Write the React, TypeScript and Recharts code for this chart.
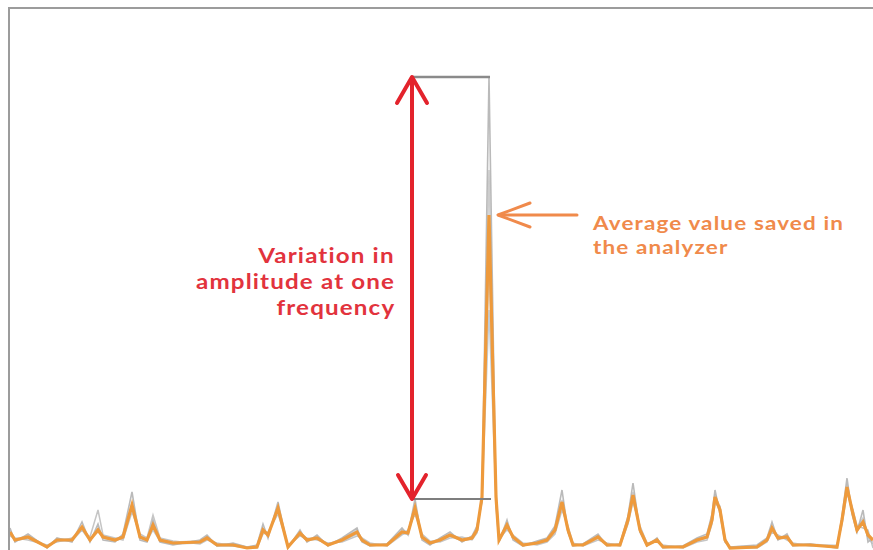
import { Line, LineChart, ReferenceLine, XAxis, YAxis } from "recharts";

// Frequency bins (x) and trace levels (y), one entry per bin.
const freqBins = [
  10, 15, 28, 47, 57, 72, 82, 90, 98, 103,
  115, 123, 132, 140, 147, 153, 160, 173, 200, 207,
  217, 233, 247, 257, 263, 268, 278, 288, 300, 307,
  317, 328, 342, 357, 362, 370, 387, 402, 408, 415,
  422, 430, 440, 450, 462, 472, 477, 482, 489, 496,
  499, 507, 513, 523, 537, 547, 555, 562, 568, 573,
  583, 598, 607, 620, 628, 633, 640, 647, 657, 663,
  683, 697, 707, 712, 715, 720, 725, 730, 757, 767,
  772, 778, 787, 793, 810, 837, 842, 847, 852, 857,
  863, 868, 873,
];

// Averaged trace kept by the analyzer.
const averageTrace = [
  18, 10, 13, 3, 10, 10, 23, 10, 20, 13,
  10, 13, 45, 13, 10, 25, 10, 7, 8, 12,
  5, 5, 2, 3, 20, 15, 42, 3, 17, 10,
  12, 5, 10, 18, 10, 5, 5, 18, 17, 42,
  13, 7, 10, 15, 10, 12, 20, 53, 335, 53,
  10, 25, 13, 5, 7, 10, 20, 48, 20, 5,
  5, 13, 5, 5, 30, 55, 20, 5, 10, 3,
  3, 10, 13, 30, 53, 40, 10, 2, 3, 10,
  22, 12, 13, 5, 5, 3, 30, 63, 40, 20,
  28, 15, 10,
];

// Individual sweeps behind the average.
const sweepA = [
  22, 8, 16, 2, 12, 8, 28, 8, 26, 10,
  8, 16, 58, 10, 8, 30, 8, 5, 10, 15,
  4, 7, 3, 5, 26, 12, 48, 2, 20, 8,
  15, 4, 12, 22, 8, 4, 6, 22, 15, 51,
  10, 5, 12, 18, 8, 14, 24, 48, 473, 45,
  8, 30, 10, 4, 9, 12, 24, 60, 18, 4,
  6, 16, 4, 6, 34, 67, 18, 4, 12, 2,
  4, 12, 16, 36, 60, 36, 8, 3, 5, 12,
  28, 10, 16, 4, 6, 2, 34, 72, 36, 18,
  40, 8, 12,
];

const sweepB = [
  14, 12, 10, 5, 8, 12, 20, 13, 40, 15,
  12, 10, 38, 16, 12, 35, 12, 9, 6, 10,
  7, 4, 3, 2, 16, 18, 36, 5, 14, 12,
  10, 7, 8, 14, 12, 7, 4, 15, 20, 36,
  16, 9, 8, 12, 13, 10, 17, 56, 290, 60,
  12, 20, 15, 7, 5, 8, 16, 40, 24, 7,
  4, 10, 7, 4, 26, 48, 24, 7, 8, 5,
  2, 8, 10, 26, 46, 44, 12, 2, 2, 8,
  18, 15, 10, 7, 4, 5, 26, 56, 44, 24,
  22, 20, 2,
];

const sweepC = [
  20, 11, 14, 4, 11, 11, 22, 11, 18, 14,
  11, 14, 47, 14, 11, 22, 11, 8, 9, 13,
  6, 6, 3, 4, 22, 14, 44, 4, 18, 11,
  13, 6, 11, 20, 11, 6, 6, 20, 18, 44,
  14, 8, 11, 16, 11, 13, 21, 50, 380, 50,
  11, 26, 14, 6, 8, 11, 22, 50, 21, 6,
  6, 14, 6, 6, 32, 58, 21, 6, 11, 4,
  4, 11, 14, 32, 56, 42, 11, 3, 4, 11,
  24, 13, 14, 6, 6, 4, 32, 66, 42, 22,
  32, 14, 8,
];

const sweepD = [
  16, 9, 12, 3, 9, 9, 20, 9, 22, 12,
  9, 12, 42, 12, 9, 20, 9, 6, 7, 11,
  4, 4, 2, 3, 18, 16, 40, 3, 15, 9,
  11, 5, 9, 16, 9, 5, 5, 16, 16, 40,
  12, 6, 9, 14, 9, 11, 18, 52, 240, 52,
  9, 22, 12, 5, 6, 9, 18, 46, 18, 5,
  5, 12, 5, 5, 28, 52, 18, 5, 9, 3,
  3, 9, 12, 28, 50, 38, 9, 2, 3, 9,
  20, 11, 12, 5, 5, 3, 28, 60, 38, 18,
  30, 12, 6,
];

const rows = freqBins.map((bin, i) => ({
  bin,
  avg: averageTrace[i],
  a: sweepA[i],
  b: sweepB[i],
  c: sweepC[i],
  d: sweepD[i],
}));

// The annotated frequency: highest sweep vs lowest sweep at the main peak.
const peakIndex = averageTrace.indexOf(Math.max(...averageTrace));
const peakBin = freqBins[peakIndex];
const maxLevel = Math.max(sweepA[peakIndex], sweepB[peakIndex], sweepC[peakIndex], sweepD[peakIndex]);
const minLevel = sweepA[freqBins.indexOf(415)];
const avgLevel = averageTrace[peakIndex];
const markerBin = 412;

const redLines = ["Variation in", "amplitude at one", "frequency"];
const orangeLines = ["Average value saved in", "the analyzer"];

const RED = "#E3232C";
const ORANGE = "#F08A4B";
const FRAME = "#9C9C9C";

function DoubleArrow(props: any) {
  const { x1, y1, y2 } = props;
  const top = Math.min(y1, y2);
  const bottom = Math.max(y1, y2);
  return (
    <g stroke={RED} strokeWidth={4} fill="none" strokeLinecap="round" strokeLinejoin="round">
      <line x1={x1} y1={top + 2} x2={x1} y2={bottom - 2} />
      <polyline points={`${x1 - 15},${top + 26} ${x1},${top} ${x1 + 15},${top + 26}`} />
      <polyline points={`${x1 - 14},${bottom - 24} ${x1},${bottom} ${x1 + 14},${bottom - 24}`} />
    </g>
  );
}

function LeftArrow(props: any) {
  const { x1, x2, y1 } = props;
  const tip = Math.min(x1, x2);
  const tail = Math.max(x1, x2);
  return (
    <g stroke={ORANGE} strokeWidth={3} fill="none" strokeLinecap="round" strokeLinejoin="round">
      <line x1={tip + 1} y1={y1} x2={tail} y2={y1} />
      <polyline points={`${tip + 32},${y1 - 12} ${tip},${y1} ${tip + 32},${y1 + 12}`} />
    </g>
  );
}

function TextBlock({ lines, color, size, lineHeight, top, left, right }: { lines: string[]; color: string; size: number; lineHeight: number; top: number; left?: number; right?: number }) {
  const alignRight = right != null;
  return (
    <>
      {lines.map((line, i) => (
        <div
          key={line}
          style={{
            position: "absolute",
            top: top + i * lineHeight,
            left,
            right,
            height: lineHeight,
            lineHeight: `${lineHeight}px`,
            fontFamily: "Lato, sans-serif",
            fontWeight: 700,
            fontSize: size,
            letterSpacing: 1,
            color,
            whiteSpace: "nowrap",
            textAlign: alignRight ? "right" : "left",
            transform: "scaleX(1.15)",
            transformOrigin: alignRight ? "right center" : "left center",
          }}
        >
          {line}
        </div>
      ))}
    </>
  );
}

export default function App() {
  return (
    <div style={{ position: "absolute", left: 0, top: 0, width: 873, height: 550, overflow: "hidden", background: "#fff" }}>
      <LineChart width={873} height={550} data={rows} margin={{ top: 8, right: 0, bottom: 0, left: 9 }}>
        <XAxis dataKey="bin" type="number" domain={[9, 873]} hide />
        <YAxis type="number" domain={[0, 542]} hide allowDataOverflow />
        <Line dataKey="d" type="linear" stroke="#AEBBC8" strokeWidth={1.5} strokeOpacity={0.75} dot={false} isAnimationActive={false} />
        <Line dataKey="b" type="linear" stroke="#BBBBBB" strokeWidth={1.5} strokeOpacity={0.85} dot={false} isAnimationActive={false} />
        <Line dataKey="c" type="linear" stroke="#C4C4C4" strokeWidth={1.5} strokeOpacity={0.85} dot={false} isAnimationActive={false} />
        <Line dataKey="a" type="linear" stroke="#B3B3B3" strokeWidth={1.6} strokeOpacity={0.9} dot={false} isAnimationActive={false} />
        <Line dataKey="avg" type="linear" stroke="#EE9A3C" strokeWidth={3.2} dot={false} isAnimationActive={false} />
        <ReferenceLine segment={[{ x: markerBin, y: maxLevel }, { x: peakBin + 1, y: maxLevel }]} stroke="#8A8A8A" strokeWidth={2.5} ifOverflow="visible" />
        <ReferenceLine segment={[{ x: markerBin, y: minLevel }, { x: peakBin + 2, y: minLevel }]} stroke="#7E7E7E" strokeWidth={2} ifOverflow="visible" />
        <ReferenceLine segment={[{ x: markerBin, y: maxLevel }, { x: markerBin, y: minLevel }]} shape={DoubleArrow} ifOverflow="visible" />
        <ReferenceLine segment={[{ x: peakBin + 9, y: avgLevel }, { x: 577, y: avgLevel }]} shape={LeftArrow} ifOverflow="visible" />
      </LineChart>
      {/* plot frame: left and top edges */}
      <div style={{ position: "absolute", left: 8, top: 7, width: 880, height: 560, borderLeft: `2.5px solid ${FRAME}`, borderTop: `2.5px solid ${FRAME}`, pointerEvents: "none" }} />
      <TextBlock lines={redLines} color="#E2333D" size={21} lineHeight={26} top={242} right={873 - 395} />
      <TextBlock lines={orangeLines} color={ORANGE} size={19.5} lineHeight={24} top={211} left={593} />
    </div>
  );
}
